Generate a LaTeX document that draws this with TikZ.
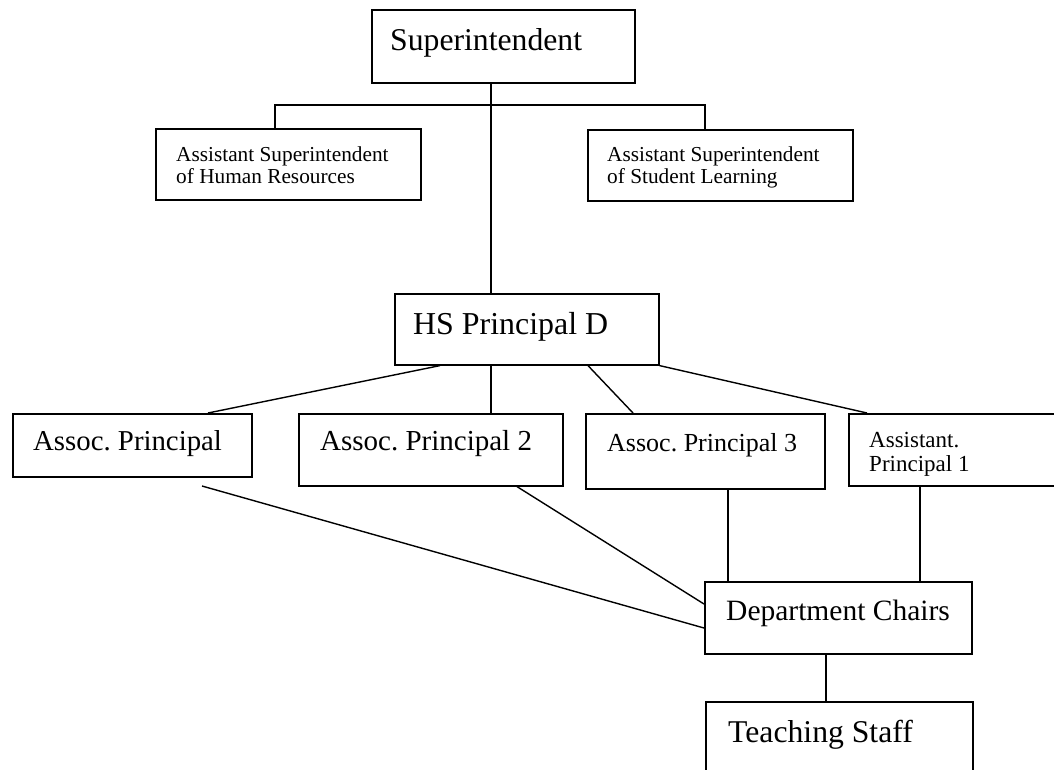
\documentclass[tikz,border=0pt]{standalone}
\usepackage{fontspec}
\setmainfont{Liberation Serif}
\usetikzlibrary{calc}
\frenchspacing
\newcommand{\fs}[2]{\fontsize{#1}{#2}\selectfont}
\begin{document}
\begin{tikzpicture}[x=1pt,y=-1pt,
  box/.style={draw=black,line width=1.6pt,inner sep=0pt,anchor=north west,fill=none},
  lbl/.style={inner sep=0pt,anchor=base west,align=left,text=black},
  link/.style={draw=black,line width=1.4pt}]
\useasboundingbox (0,0) rectangle (1054,769);
\clip (0,0) rectangle (1054,769);

% boxes
\node[box,minimum width=263pt,minimum height=73pt] (sup) at (371,9) {};
\node[box,minimum width=265pt,minimum height=71pt] (ashr) at (155,128) {};
\node[box,minimum width=265pt,minimum height=71pt] (assl) at (587,129) {};
\node[box,minimum width=264pt,minimum height=71pt] (hs) at (394,293) {};
\node[box,minimum width=239pt,minimum height=63pt] (ap) at (12,413) {};
\node[box,minimum width=264pt,minimum height=72pt] (ap2) at (298,413) {};
\node[box,minimum width=239pt,minimum height=75pt] (ap3) at (585,413) {};
\node[box,minimum width=222pt,minimum height=72pt] (ap1) at (848,413) {};
\node[box,minimum width=267pt,minimum height=72pt] (dc) at (704,581) {};
\node[box,minimum width=267pt,minimum height=90pt] (ts) at (705,701) {};

% labels (two-line labels are anchored at the baseline of their last line)
\node[lbl,font=\fs{31.7}{34}] (tsup) at (390,50) {Superintendent};
\node[lbl,font=\fs{21.3}{22}] (tashr) at (176,183) {Assistant Superintendent\\of Human Resources};
\node[lbl,font=\fs{21.3}{22}] (tassl) at (607,183) {Assistant Superintendent\\of Student Learning};
\node[lbl,font=\fs{31.9}{34}] (ths) at (413,334) {HS Principal D};
\node[lbl,font=\fs{28.8}{31}] (tap) at (33,450) {Assoc. Principal};
\node[lbl,font=\fs{29}{31}] (tap2) at (320,450) {Assoc. Principal 2};
\node[lbl,font=\fs{26}{28}] (tap3) at (607,451) {Assoc. Principal 3};
\node[lbl,font=\fs{23}{24}] (tap1) at (869,471) {Assistant.\\Principal 1};
\node[lbl,font=\fs{29.5}{31}] (tdc) at (726,620) {Department Chairs};
\node[lbl,font=\fs{31.7}{34}] (tts) at (728,742) {Teaching Staff};

% helper coordinates for connector positions
\coordinate (trunk) at (491,0);
\coordinate (busl) at (275,105);
\coordinate (busr) at (705,105);
\coordinate (apfree) at (202,486);
\coordinate (c3) at (728,0);
\coordinate (c1) at (920,0);
\coordinate (c4) at (826,0);

% connectors
\draw[link] (sup.south -| trunk) -- (hs.north -| trunk);
\draw[link] (ashr.north -| busl) -- (busl) -- (busr) -- (assl.north -| busr);
\draw[link] ($(hs.south west)+(46,0)$) -- ($(ap.north west)+(196,0)$);
\draw[link] (hs.south -| trunk) -- (ap2.north -| trunk);
\draw[link] ($(hs.south west)+(194,0)$) -- ($(ap3.north west)+(48,0)$);
\draw[link] (hs.south east) -- ($(ap1.north west)+(19,0)$);
\draw[link] (apfree) -- ($(dc.north west)+(0,47)$);
\draw[link] ($(ap2.south west)+(219,0)$) -- ($(dc.north west)+(0,23)$);
\draw[link] (ap3.south -| c3) -- (dc.north -| c3);
\draw[link] (ap1.south -| c1) -- (dc.north -| c1);
\draw[link] (dc.south -| c4) -- (ts.north -| c4);
\end{tikzpicture}
\end{document}
